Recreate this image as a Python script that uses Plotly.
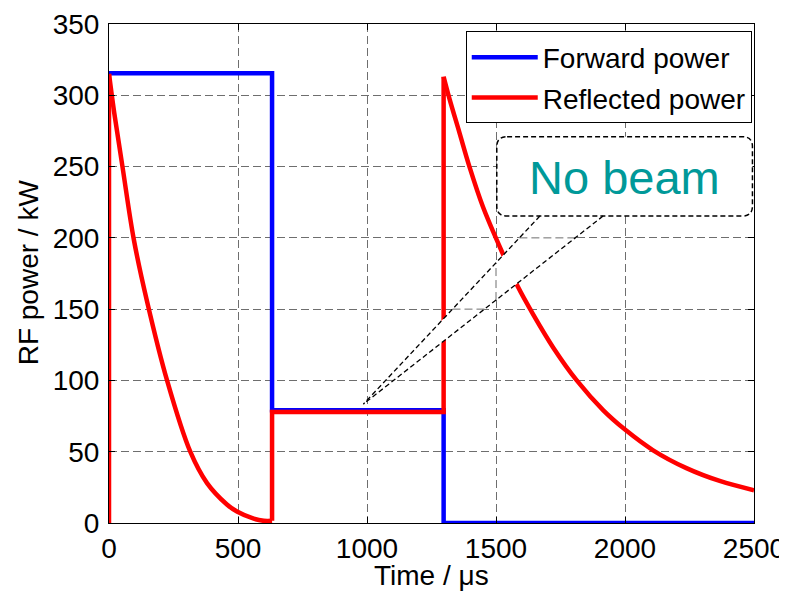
import plotly.graph_objects as go

# ---------------- data ----------------
fwd_time = [0, 632, 632, 1297, 1297, 2500]
fwd_kw = [315.5, 315.5, 79, 79, 0, 0]

refl_rise_time = [0, 0]
refl_rise_kw = [0, 315]

refl_decay1_time = [0, 20, 53, 96, 148, 225, 315, 380, 457, 496, 561, 600, 632]
refl_decay1_kw = [315, 288, 249, 199, 155, 100, 50, 28, 13, 8, 3, 1.5, 1.5]

refl_flat_time = [632, 632, 1297, 1297]
refl_flat_kw = [1.5, 77.8, 77.8, 313]

refl_decay2_time = [1297, 1319, 1358, 1397, 1449, 1526, 1584, 1645, 1722, 1813,
                    1916, 2000, 2109, 2238, 2367, 2500]
refl_decay2_kw = [313, 298, 274, 250, 222, 189, 166, 146, 123, 100,
                  79, 65.5, 51, 38.5, 29.5, 23]

x_ticks = [0, 500, 1000, 1500, 2000, 2500]
y_ticks = [0, 50, 100, 150, 200, 250, 300, 350]

callout_text = "No beam"
callout_box = dict(x0=1503, x1=2494, y0=215.3, y1=271)
callout_tip = (986, 83.4)
callout_base = (1670, 1915)

FONT = "Liberation Sans, Arial, Helvetica, sans-serif"
FS = 28
BLUE = "#0000ff"
RED = "#ff0000"
LW = 4.5

fig = go.Figure()
fig.add_trace(go.Scatter(x=fwd_time, y=fwd_kw, mode="lines", name="Forward power",
                         legendgroup="f", line=dict(color=BLUE, width=LW)))
fig.add_trace(go.Scatter(x=refl_rise_time, y=refl_rise_kw, mode="lines", name="Reflected power",
                         legendgroup="r", line=dict(color=RED, width=LW)))
fig.add_trace(go.Scatter(x=refl_decay1_time, y=refl_decay1_kw, mode="lines", legendgroup="r",
                         showlegend=False, line=dict(color=RED, width=LW, shape="spline", smoothing=1.0)))
fig.add_trace(go.Scatter(x=refl_flat_time, y=refl_flat_kw, mode="lines", legendgroup="r",
                         showlegend=False, line=dict(color=RED, width=LW)))
fig.add_trace(go.Scatter(x=refl_decay2_time, y=refl_decay2_kw, mode="lines", legendgroup="r",
                         showlegend=False, line=dict(color=RED, width=LW, shape="spline", smoothing=1.0)))

# ---------------- callout ----------------
tx, ty = callout_tip
bx1, bx2 = callout_base
by = callout_box["y0"]
shapes = []
# white tail covering the data
shapes.append(dict(type="path", layer="above", xref="x", yref="y",
                   path=f"M {bx1},{by} L {tx},{ty} L {bx2},{by} Z",
                   fillcolor="white", line=dict(width=0)))

# grid segments that remain visible inside the tail
GRIDC = "#6e6e6e"
GRID = dict(color=GRIDC, width=1, dash="8px,4px")
def lerp(a, b, t):
    return a + (b - a) * t
for yv in y_ticks[1:-1]:
    if ty < yv < by:
        t = (yv - ty) / (by - ty)
        shapes.append(dict(type="line", layer="above", xref="x", yref="y",
                           x0=lerp(tx, bx1, t), x1=lerp(tx, bx2, t), y0=yv, y1=yv, line=GRID))
for xv in x_ticks[1:-1]:
    if tx < xv < bx2:
        ya = ty + (xv - tx) / (bx1 - tx) * (by - ty) if xv < bx1 else by
        yb = ty + (xv - tx) / (bx2 - tx) * (by - ty)
        shapes.append(dict(type="line", layer="above", xref="x", yref="y",
                           x0=xv, x1=xv, y0=yb, y1=min(ya, by), line=GRID))

# rounded dashed box
x0, x1, y0, y1 = callout_box["x0"], callout_box["x1"], callout_box["y0"], callout_box["y1"]
rx, ry = 40, 7
box_path = (f"M {x0+rx},{y1} L {x1-rx},{y1} Q {x1},{y1} {x1},{y1-ry} L {x1},{y0+ry} "
            f"Q {x1},{y0} {x1-rx},{y0} L {x0+rx},{y0} Q {x0},{y0} {x0},{y0+ry} "
            f"L {x0},{y1-ry} Q {x0},{y1} {x0+rx},{y1} Z")
shapes.append(dict(type="path", layer="above", xref="x", yref="y", path=box_path,
                   fillcolor="white", line=dict(color="black", width=1.5, dash="5px,3px")))
# tail edges
for bx in (bx1, bx2):
    shapes.append(dict(type="line", layer="above", xref="x", yref="y",
                       x0=bx, y0=by, x1=tx, y1=ty,
                       line=dict(color="black", width=1.3, dash="5px,3px")))

annotations = [
    dict(x=(x0 + x1) / 2, y=(y0 + y1) / 2 - 0.5, xref="x", yref="y",
         text=callout_text, showarrow=False,
         font=dict(family=FONT, size=47, color="#009999")),
    dict(x=0.5, y=-0.1057, xref="paper", yref="paper", xanchor="center", yanchor="middle",
         text="Time / μs", showarrow=False, font=dict(family=FONT, size=FS, color="black")),
    dict(x=-0.1254, y=0.5026, xref="paper", yref="paper", xanchor="center", yanchor="middle",
         text="RF power / kW", textangle=-90, showarrow=False,
         font=dict(family=FONT, size=FS, color="black")),
]

# the page adds an 8px body margin, so the figure is 8px smaller than the window
fig.update_layout(
    width=779, height=585,
    margin=dict(l=100.5, r=32.75, t=16, b=70.4),
    paper_bgcolor="white", plot_bgcolor="white",
    font=dict(family=FONT, size=FS, color="black"),
    shapes=shapes,
    annotations=annotations,
    legend=dict(x=0.9965, y=0.985, xanchor="right", yanchor="top",
                bgcolor="white", bordercolor="black", borderwidth=1,
                font=dict(family=FONT, size=FS), itemwidth=66,
                tracegroupgap=1),
    showlegend=True,
)
fig.update_xaxes(range=[0, 2500], tickvals=x_ticks, ticktext=[str(v) for v in x_ticks],
                 showline=True, linecolor="black", linewidth=1, mirror="ticks",
                 ticks="inside", ticklen=6, tickcolor="black", automargin=False,
                 ticklabeloverflow="allow",
                 showgrid=True, gridcolor=GRIDC, gridwidth=1, griddash="8px,4px",
                 zeroline=False)
fig.update_yaxes(range=[0, 350], tickvals=y_ticks, ticktext=[str(v) for v in y_ticks],
                 showline=True, linecolor="black", linewidth=1, mirror="ticks",
                 ticks="inside", ticklen=6, tickcolor="black", automargin=False,
                 ticklabelstandoff=3, ticklabeloverflow="allow",
                 showgrid=True, gridcolor=GRIDC, gridwidth=1, griddash="8px,4px",
                 zeroline=False)

fig.write_html("out.html")
